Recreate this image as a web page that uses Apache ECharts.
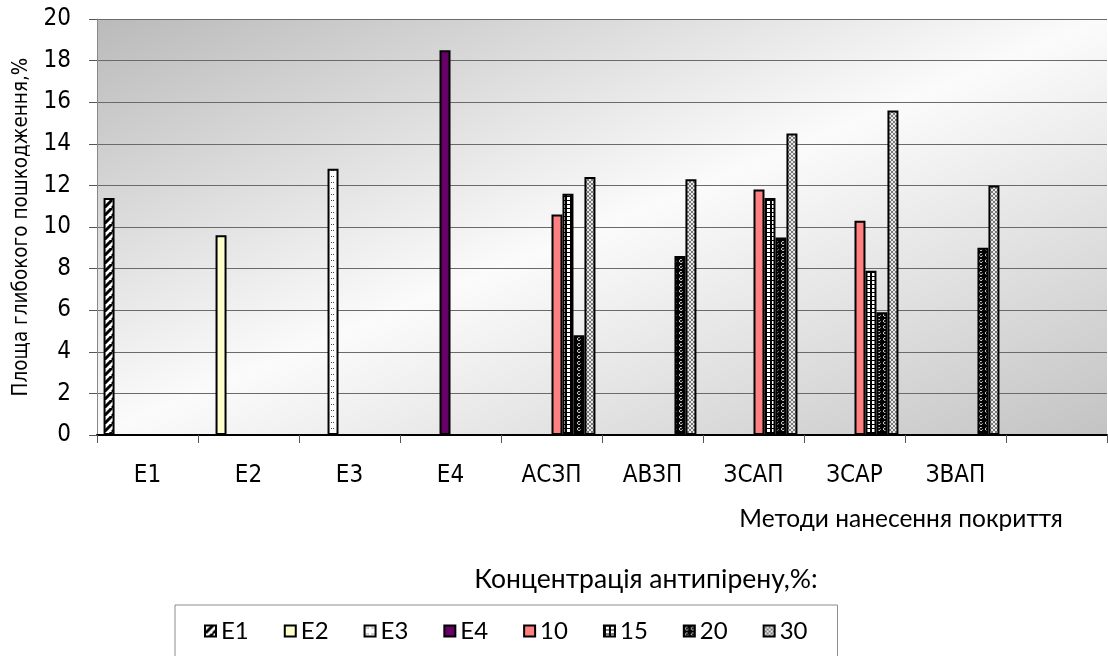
<!DOCTYPE html>
<html>
<head>
<meta charset="utf-8">
<script src="https://cdn.jsdelivr.net/npm/echarts@6/dist/echarts.min.js"></script>
<style>
html,body{margin:0;padding:0;background:#fff;}
#chart{width:1108px;height:656px;}
</style>
</head>
<body>
<div id="chart"></div>
<script>
// ---- data ----
const categories = ['E1', 'E2', 'E3', 'E4', 'АСЗП', 'АВЗП', 'ЗСАП', 'ЗСАР', 'ЗВАП', ''];
const seriesNames = ['E1', 'E2', 'E3', 'E4', '10', '15', '20', '30'];
const valuesE1 = [11.4, null, null, null, null, null, null, null, null, null];
const valuesE2 = [null, 9.6, null, null, null, null, null, null, null, null];
const valuesE3 = [null, null, 12.8, null, null, null, null, null, null, null];
const valuesE4 = [null, null, null, 18.5, null, null, null, null, null, null];
const values10 = [null, null, null, null, 10.6, null, 11.8, 10.3, null, null];
const values15 = [null, null, null, null, 11.6, null, 11.4, 7.9, null, null];
const values20 = [null, null, null, null, 4.8, 8.6, 9.5, 5.9, 9.0, null];
const values30 = [null, null, null, null, 12.4, 12.3, 14.5, 15.6, 12.0, null];
const yTicks = {min: 0, max: 20, interval: 2};
const yAxisTitle = 'Площа глибокого пошкодження,%';
const xAxisTitle = 'Методи нанесення покриття';
const legendTitle = 'Концентрація антипірену,%:';

// ---- styles ----
const NARROW = "'Liberation Sans Narrow', 'Arial Narrow', 'DejaVu Sans Condensed', sans-serif";
const CAL = "Lato, 'Open Sans', sans-serif";
const G = {left: 97, top: 19, width: 1010, height: 416};

function pat(w, h, draw) {
  const c = document.createElement('canvas');
  c.width = w; c.height = h;
  const g = c.getContext('2d');
  draw(g);
  return {image: c, repeat: 'repeat'};
}
const fills = [
  pat(8, 8, g => { g.fillStyle = '#fff'; g.fillRect(0, 0, 8, 8); g.strokeStyle = '#000'; g.lineWidth = 3;
    g.beginPath(); for (let k = -8; k <= 16; k += 8) { g.moveTo(k, 8); g.lineTo(k + 8, 0); } g.stroke(); }),
  '#FFFFCC',
  pat(6, 6, g => { g.fillStyle = '#fff'; g.fillRect(0, 0, 6, 6); g.fillStyle = '#444'; g.fillRect(1, 2, 1, 1); g.fillRect(3, 2, 1, 1); }),
  '#660066',
  '#FF8080',
  pat(5, 4, g => { g.fillStyle = '#fff'; g.fillRect(0, 0, 5, 4); g.fillStyle = '#000'; g.fillRect(0, 0, 5, 1); g.fillRect(0, 0, 2, 4); }),
  pat(6, 6, g => { g.fillStyle = '#000'; g.fillRect(0, 0, 6, 6); g.strokeStyle = '#fff'; g.lineWidth = 1;
    g.beginPath(); g.arc(3, 3, 1.5, 0.3, Math.PI * 1.7); g.stroke(); }),
  pat(4, 4, g => { g.fillStyle = '#e8e8e8'; g.fillRect(0, 0, 4, 4); g.fillStyle = '#7a7a7a';
    [[0,0],[1,1],[2,2],[3,3],[3,0],[2,1],[1,2],[0,3]].forEach(p => g.fillRect(p[0], p[1], 1, 1)); })
];
const allValues = [valuesE1, valuesE2, valuesE3, valuesE4, values10, values15, values20, values30];

// diagonal background gradient (gray - white - gray), isoline along the anti-diagonal
const cx = G.left + G.width / 2, cy = G.top + G.height / 2;
const nrm = Math.sqrt(G.width * G.width + G.height * G.height);
const ux = G.height / nrm, uy = G.width / nrm;
const proj = (G.width / 2) * ux + (G.height / 2) * uy;
const bg = new echarts.graphic.LinearGradient(cx - proj * ux, cy - proj * uy, cx + proj * ux, cy + proj * uy, [
  {offset: 0, color: '#bababa'}, {offset: 0.5, color: '#fbfbfb'}, {offset: 1, color: '#c3c3c3'}
], true);

const chart = echarts.init(document.getElementById('chart'), null, {renderer: 'canvas'});
chart.setOption({
  animation: false,
  backgroundColor: '#fff',
  grid: {left: G.left, top: G.top, width: G.width, height: G.height, show: true, backgroundColor: bg, borderWidth: 0},
  legend: {
    left: 175, top: 605, orient: 'horizontal', icon: 'rect',
    itemWidth: 11, itemHeight: 11, itemGap: 35,
    padding: [14, 30, 14, 29],
    borderColor: '#8c8c8c', borderWidth: 1, backgroundColor: '#fff',
    itemStyle: {borderColor: '#000', borderWidth: 2},
    textStyle: {fontFamily: CAL, fontSize: 24, color: '#000'},
    data: seriesNames
  },
  xAxis: {
    type: 'category', data: categories,
    axisLine: {lineStyle: {color: '#000', width: 2}},
    axisTick: {show: true, length: 8, alignWithLabel: false, lineStyle: {color: '#555'}},
    axisLabel: {interval: 0, fontFamily: NARROW, fontSize: 24, color: '#000', margin: 29},
    splitLine: {show: false}
  },
  yAxis: {
    type: 'value', min: yTicks.min, max: yTicks.max, interval: yTicks.interval,
    name: yAxisTitle, nameLocation: 'middle', nameGap: 63,
    nameTextStyle: {fontFamily: NARROW, fontSize: 20.5, color: '#000'},
    axisLine: {show: true, lineStyle: {color: '#888', width: 1}},
    axisTick: {show: true, length: 8, lineStyle: {color: '#555'}},
    axisLabel: {fontFamily: NARROW, fontSize: 24, color: '#000', margin: 26},
    splitLine: {show: true, lineStyle: {color: '#6a6a6a', width: 1}}
  },
  graphic: [
    {type: 'text', x: 901, y: 519, style: {text: xAxisTitle, align: 'center', verticalAlign: 'middle', fontFamily: CAL, fontSize: 24.5, fill: '#000'}},
    {type: 'text', x: 646, y: 579, style: {text: legendTitle, align: 'center', verticalAlign: 'middle', fontFamily: CAL, fontSize: 26.5, fill: '#000'}}
  ],
  series: seriesNames.map((n, i) => ({
    name: n, type: 'bar', data: allValues[i],
    barGap: '0%', barCategoryGap: '13%',
    itemStyle: {color: fills[i], borderColor: '#000', borderWidth: 2},
    emphasis: {disabled: true}
  }))
});
</script>
</body>
</html>
